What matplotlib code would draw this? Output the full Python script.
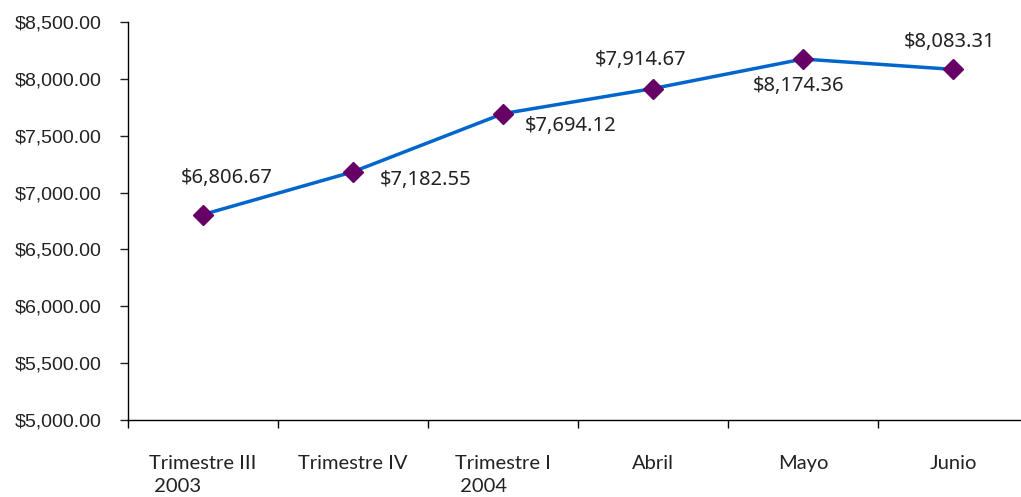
import matplotlib
matplotlib.use("Agg")
import matplotlib.pyplot as plt
from matplotlib.ticker import FuncFormatter, FixedLocator, NullFormatter

categories = ["Trimestre III\n 2003", "Trimestre IV", "Trimestre I\n 2004", "Abril", "Mayo", "Junio"]
values = [6806.67, 7182.55, 7694.12, 7914.67, 8174.36, 8083.31]
value_labels = ["$6,806.67", "$7,182.55", "$7,694.12", "$7,914.67", "$8,174.36", "$8,083.31"]
label_offsets = [(24, 37), (73, -8), (68, -12), (-12, 29), (-4, -27), (-3, 27)]

W, H = 1021, 497
fig = plt.figure(figsize=(W / 100, H / 100), dpi=100)
ax = fig.add_axes([128 / W, (H - 420) / H, 900 / W, 398 / H])

x = list(range(len(values)))
ax.plot(x, values, color="#0066CC", lw=2.5, marker="D", markersize=10.2,
        markerfacecolor="#660066", markeredgecolor="#660066", zorder=3)

for xi, v, lab, (dx, dy) in zip(x, values, value_labels, label_offsets):
    ax.annotate(lab, (xi, v), xytext=(dx, dy), textcoords="offset pixels",
                ha="center", va="center", fontsize=14.5, color="#222222",
                family="Noto Sans")

ax.set_xlim(-0.5, 5.5)
ax.set_ylim(5000, 8500)
ax.set_yticks([5000, 5500, 6000, 6500, 7000, 7500, 8000, 8500])
ax.yaxis.set_major_formatter(FuncFormatter(lambda v, p: f"${v:,.2f}"))
ax.tick_params(axis="y", direction="out", length=6, width=1, pad=13,
               labelsize=14, colors="#222222", labelfontfamily="Liberation Sans")

ax.xaxis.set_major_locator(FixedLocator([i - 0.5 for i in range(len(values) + 1)]))
ax.xaxis.set_major_formatter(NullFormatter())
ax.set_xticks(x, categories, minor=True)
ax.tick_params(axis="x", which="major", direction="out", length=6, width=1)
ax.tick_params(axis="x", which="minor", length=0, pad=25, labelsize=14.5,
               colors="#222222", labelfontfamily="Lato")
for t in ax.get_xticklabels(minor=True):
    t.set_multialignment("left")
    t.set_linespacing(1.45)

for s in ["top", "right"]:
    ax.spines[s].set_visible(False)
for s in ["left", "bottom"]:
    ax.spines[s].set_color("black")
    ax.spines[s].set_linewidth(1)

fig.savefig("out.png", dpi=100)
